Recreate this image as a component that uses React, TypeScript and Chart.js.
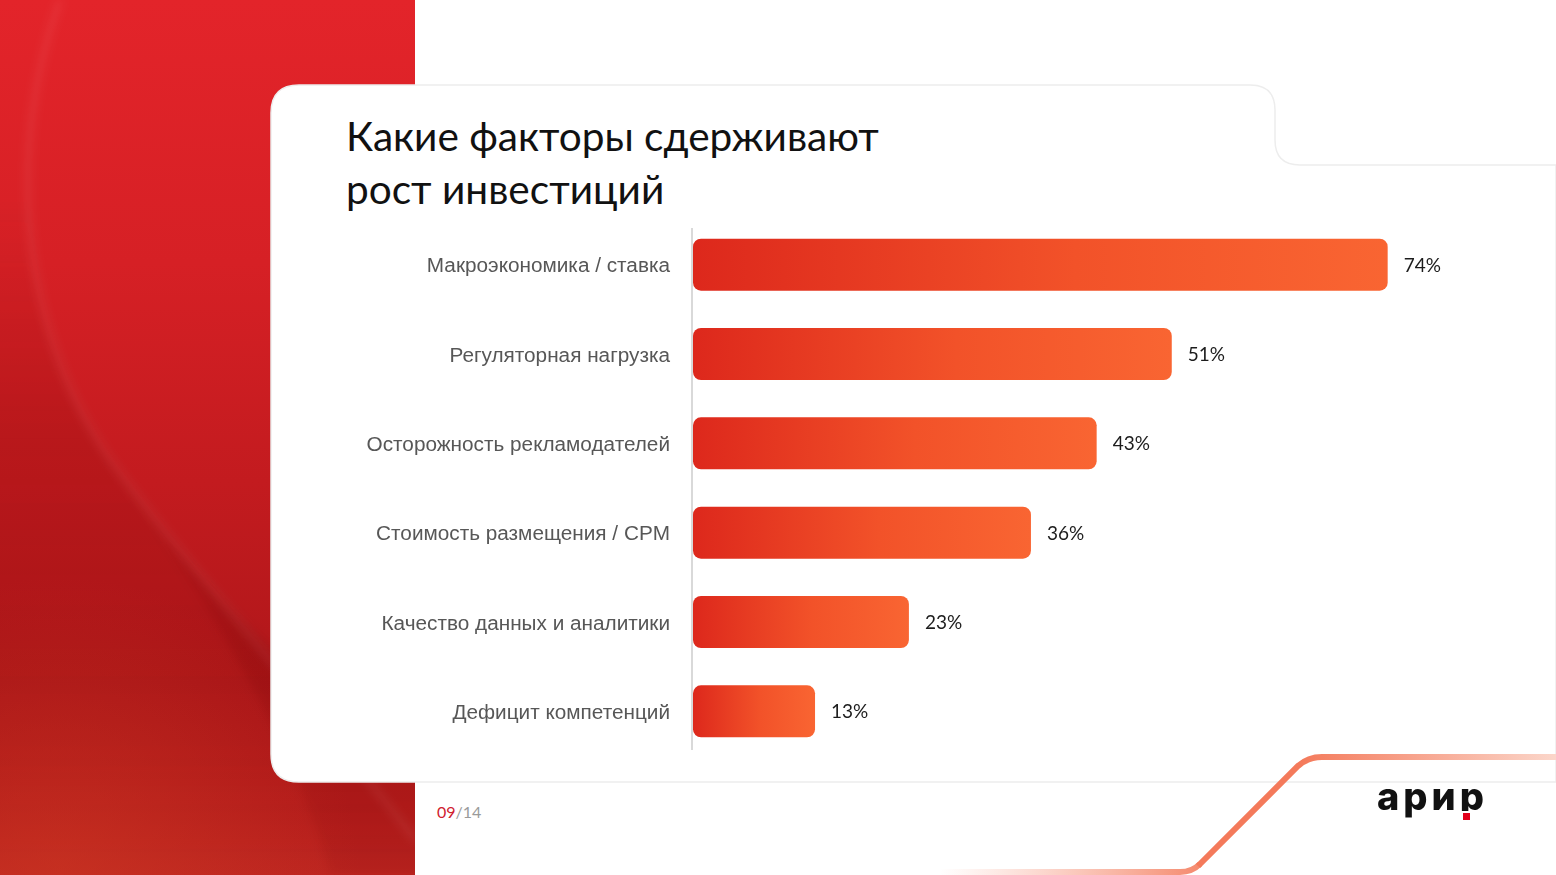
import React, { useEffect, useRef } from 'react';
import { Chart, registerables } from 'chart.js';

Chart.register(...registerables);

// --- data ---
const factors = [
  'Макроэкономика / ставка',
  'Регуляторная нагрузка',
  'Осторожность рекламодателей',
  'Стоимость размещения / CPM',
  'Качество данных и аналитики',
  'Дефицит компетенций',
];
const shares = [74, 51, 43, 36, 23, 13];
const shareLabels = ['74%', '51%', '43%', '36%', '23%', '13%'];

const titleLines = ['Какие факторы сдерживают', 'рост инвестиций'];

// draws the "NN%" text right of each bar
const valueLabelPlugin = {
  id: 'valueLabels',
  afterDatasetsDraw(chart: any) {
    const { ctx } = chart;
    const meta = chart.getDatasetMeta(0);
    ctx.save();
    ctx.font = '19px Lato';
    ctx.fillStyle = '#1c1c1c';
    ctx.textBaseline = 'middle';
    ctx.textAlign = 'left';
    meta.data.forEach((bar: any, i: number) => {
      ctx.fillText(shareLabels[i], bar.x + 16, bar.y + 1);
    });
    ctx.restore();
  },
};

// thin grey line at the start of the bars
const axisLinePlugin = {
  id: 'axisLine',
  beforeDatasetsDraw(chart: any) {
    const { ctx, chartArea } = chart;
    ctx.save();
    ctx.strokeStyle = '#d9d9d9';
    ctx.lineWidth = 2;
    ctx.beginPath();
    ctx.moveTo(chartArea.left - 1, chartArea.top + 8);
    ctx.lineTo(chartArea.left - 1, chartArea.bottom - 6);
    ctx.stroke();
    ctx.restore();
  },
};

function BarChart() {
  const canvasRef = useRef<HTMLCanvasElement | null>(null);

  useEffect(() => {
    if (!canvasRef.current) return;
    const chart = new Chart(canvasRef.current, {
      type: 'bar',
      data: {
        labels: factors,
        datasets: [
          {
            data: shares,
            backgroundColor: (c: any) => {
              const ch = c.chart;
              if (!ch.chartArea || c.type !== 'data') return '#ef4a27';
              const x0 = ch.scales.x.getPixelForValue(0);
              const x1 = ch.scales.x.getPixelForValue(shares[c.dataIndex]);
              const g = ch.ctx.createLinearGradient(x0, 0, x1, 0);
              g.addColorStop(0, '#dd281c');
              g.addColorStop(0.55, '#f25229');
              g.addColorStop(1, '#f96532');
              return g;
            },
            borderRadius: 8,
            borderSkipped: false,
            barPercentage: 0.582,
            categoryPercentage: 1,
          },
        ],
      },
      options: {
        indexAxis: 'y',
        animation: false,
        responsive: true,
        maintainAspectRatio: false,
        layout: { padding: { top: 20, bottom: 20, left: 0, right: 56 } },
        scales: {
          x: { display: false, min: 0, max: 80 },
          y: {
            afterFit: (s: any) => {
              s.width = 393;
              s.paddingTop = 0;
              s.paddingBottom = 0;
            },
            grid: { display: false, drawTicks: false },
            border: { display: false },
            ticks: {
              padding: 23,
              labelOffset: 2,
              color: '#575757',
              font: { family: 'Liberation Sans, Arial, sans-serif', size: 20.75 },
            },
          },
        },
        plugins: {
          legend: { display: false },
          tooltip: { enabled: false },
        },
      },
      plugins: [axisLinePlugin, valueLabelPlugin],
    });
    return () => chart.destroy();
  }, []);

  return (
    <div style={{ position: 'absolute', left: 300, top: 200, width: 1200, height: 576 }}>
      <canvas ref={canvasRef} />
    </div>
  );
}

// red backdrop on the left with soft waves
function RedPanel() {
  const curve = 'M60,0 C5,150 20,330 110,460 C190,570 300,690 415,840';
  return (
    <svg width={415} height={875} style={{ position: 'absolute', left: 0, top: 0 }}>
      <defs>
        <linearGradient id="redBg" x1="0" y1="0" x2="0" y2="1">
          <stop offset="0" stopColor="#e3242a" />
          <stop offset="0.3" stopColor="#d62025" />
          <stop offset="0.55" stopColor="#c31b1f" />
          <stop offset="0.78" stopColor="#b0171a" />
          <stop offset="0.92" stopColor="#b71d1c" />
          <stop offset="1" stopColor="#bd2520" />
        </linearGradient>
        <linearGradient id="darkLeft" x1="0" y1="200" x2="0" y2="875" gradientUnits="userSpaceOnUse">
          <stop offset="0" stopColor="#6e0609" stopOpacity="0" />
          <stop offset="0.35" stopColor="#6e0609" stopOpacity="0.16" />
          <stop offset="0.8" stopColor="#6e0609" stopOpacity="0.08" />
          <stop offset="1" stopColor="#6e0609" stopOpacity="0" />
        </linearGradient>
        <linearGradient id="darkRight" x1="0" y1="450" x2="0" y2="875" gradientUnits="userSpaceOnUse">
          <stop offset="0" stopColor="#6e0609" stopOpacity="0" />
          <stop offset="0.5" stopColor="#6e0609" stopOpacity="0.18" />
          <stop offset="1" stopColor="#6e0609" stopOpacity="0.1" />
        </linearGradient>
        <radialGradient id="warmCorner" cx="60" cy="875" r="300" gradientUnits="userSpaceOnUse">
          <stop offset="0" stopColor="#cf3a22" stopOpacity="0.5" />
          <stop offset="1" stopColor="#cf3a22" stopOpacity="0" />
        </radialGradient>
        <filter id="soft" x="-10%" y="-10%" width="120%" height="120%">
          <feGaussianBlur stdDeviation="4" />
        </filter>
      </defs>
      <rect x={0} y={0} width={415} height={875} fill="url(#redBg)" />
      <path d={`${curve} L415,875 L-20,875 L-20,0 Z`} fill="url(#darkLeft)" filter="url(#soft)" />
      <path
        d="M150,520 C230,620 330,700 430,760 L430,875 L330,875 C300,760 230,640 150,520 Z"
        fill="url(#darkRight)"
        filter="url(#soft)"
      />
      <path d={curve} stroke="#ffffff" strokeOpacity={0.07} strokeWidth={6} fill="none" filter="url(#soft)" />
      <rect x={0} y={550} width={415} height={325} fill="url(#warmCorner)" />
    </svg>
  );
}

function Decorations() {
  return (
    <svg width={1556} height={875} style={{ position: 'absolute', left: 0, top: 0 }}>
      <defs>
        <linearGradient id="topLine" x1="1300" y1="0" x2="1556" y2="0" gradientUnits="userSpaceOnUse">
          <stop offset="0" stopColor="#f47a5b" />
          <stop offset="1" stopColor="#fbd6ca" />
        </linearGradient>
        <linearGradient id="bottomLine" x1="940" y1="0" x2="1200" y2="0" gradientUnits="userSpaceOnUse">
          <stop offset="0" stopColor="#f8a48f" stopOpacity="0" />
          <stop offset="1" stopColor="#f58a6e" />
        </linearGradient>
      </defs>
      {/* white card with notch at top right */}
      <path
        d="M271,113 Q271,85 299,85 L1250,85 Q1275,85 1275,110 L1275,140 Q1275,165 1300,165 L1556,165 L1556,782 L299,782 Q271,782 271,754 Z"
        fill="#ffffff"
        stroke="#ededed"
        strokeWidth={1.5}
      />
      {/* orange trace bottom right */}
      <path d="M940,872 L1180,872 Q1192,872 1200,864" stroke="url(#bottomLine)" strokeWidth={6} fill="none" />
      <path d="M1198,866 L1298,766 Q1308,757 1322,757 L1556,757" stroke="url(#topLine)" strokeWidth={6} fill="none" />
    </svg>
  );
}

function Logo() {
  return (
    <div
      style={{
        position: 'absolute',
        left: 1377,
        top: 774,
        fontFamily: 'Inter, sans-serif',
        fontWeight: 800,
        fontSize: 38,
        lineHeight: '44px',
        letterSpacing: 4,
        color: '#111111',
        whiteSpace: 'nowrap',
        display: 'flex',
      }}
    >
      <span>ари</span>
      <span style={{ position: 'relative', display: 'inline-block', height: 37, overflow: 'visible' }}>
        <span style={{ display: 'block', height: 37, overflow: 'hidden' }}>р</span>
        <span
          style={{ position: 'absolute', left: 3, top: 39, width: 7, height: 7, background: '#e3001b' }}
        />
      </span>
    </div>
  );
}

export default function App() {
  return (
    <div
      style={{
        position: 'absolute',
        left: 0,
        top: 0,
        width: 1556,
        height: 875,
        overflow: 'hidden',
        background: '#ffffff',
      }}
    >
      <RedPanel />
      <Decorations />
      <div
        style={{
          position: 'absolute',
          left: 346,
          top: 109,
          fontFamily: 'Lato, sans-serif',
          fontSize: 40.6,
          lineHeight: '53px',
          color: '#111111',
          whiteSpace: 'nowrap',
        }}
      >
        {titleLines.map((t) => (
          <div key={t}>{t}</div>
        ))}
      </div>
      <BarChart />
      <div
        style={{
          position: 'absolute',
          left: 437,
          top: 802,
          fontFamily: 'Lato, sans-serif',
          fontSize: 16,
          lineHeight: '20px',
          whiteSpace: 'nowrap',
        }}
      >
        <span style={{ color: '#d0202e' }}>09</span>
        <span style={{ color: '#9a9a9a' }}>/14</span>
      </div>
      <Logo />
    </div>
  );
}
